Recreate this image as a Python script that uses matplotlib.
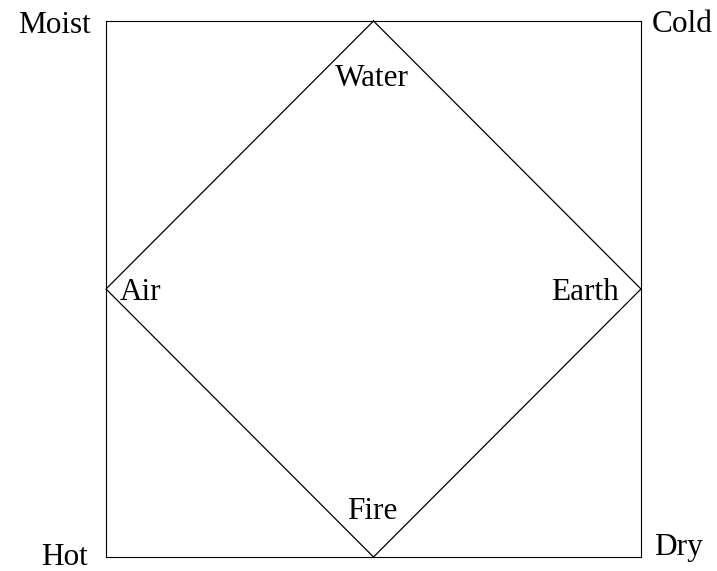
import matplotlib
matplotlib.use("Agg")
import matplotlib.pyplot as plt

# Diamond vertices (elements) in unit square coordinates
element_names = ["Water", "Earth", "Fire", "Air"]
diamond_x = [0.5, 1.0, 0.5, 0.0, 0.5]
diamond_y = [1.0, 0.5, 0.0, 0.5, 1.0]

# Corner qualities
corner_names = ["Moist", "Cold", "Hot", "Dry"]

W, H = 717, 571
fig = plt.figure(figsize=(W / 100, H / 100), dpi=100)
x0, x1, y0, y1 = 106, 641, 21, 557
ax = fig.add_axes([x0 / W, 1 - y1 / H, (x1 - x0) / W, (y1 - y0) / H])
ax.set_xlim(0, 1)
ax.set_ylim(0, 1)
ax.set_xticks([])
ax.set_yticks([])
for s in ax.spines.values():
    s.set_linewidth(0.8)
    s.set_color("black")

ax.plot(diamond_x, diamond_y, color="black", lw=0.9, clip_on=False)

def px(x):
    return (x - x0) / (x1 - x0)

def py(y):
    return (y1 - y) / (y1 - y0)

font = dict(family=["Liberation Serif", "DejaVu Serif"], fontsize=22.5, color="black")

# element labels: (name, x pixel, baseline pixel, ha)
elem_pos = {"Water": (372, 86, "center"), "Earth": (619, 300, "right"),
            "Fire": (372, 519, "center"), "Air": (120, 300, "left")}
for n in element_names:
    x, y, ha = elem_pos[n]
    ax.text(px(x), py(y), n, ha=ha, va="baseline", clip_on=False, **font)

corner_pos = {"Moist": (91, 33, "right"), "Cold": (652, 32, "left"),
              "Hot": (88, 565, "right"), "Dry": (654, 555, "left")}
for n in corner_names:
    x, y, ha = corner_pos[n]
    ax.text(px(x), py(y), n, ha=ha, va="baseline", clip_on=False, **font)

fig.savefig("out.png", dpi=100)
